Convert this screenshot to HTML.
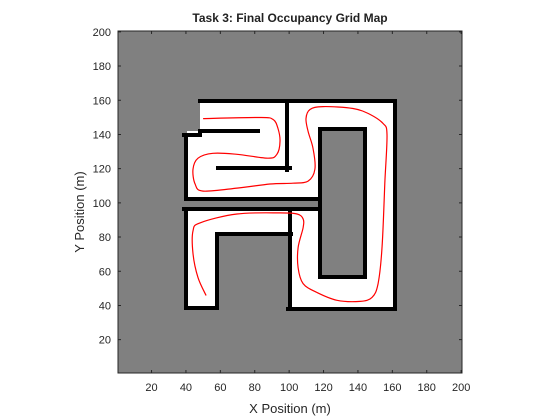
<!DOCTYPE html>
<html><head><meta charset="utf-8"><style>
html,body{margin:0;padding:0;background:#fff;}
svg{display:block;font-family:"Liberation Sans",Arial,sans-serif;}
</style></head><body>
<svg id="chart" width="560" height="420" viewBox="0 0 560 420">
<text x="290" y="22" text-anchor="middle" font-size="12" font-weight="bold" fill="#222">Task 3: Final Occupancy Grid Map</text>
<rect x="118" y="31" width="344" height="342" fill="#808080"/>
<g fill="#fff">
<rect x="200" y="103" width="86" height="28"/>
<rect x="187" y="131" width="99" height="38"/>
<rect x="187" y="168" width="132" height="30"/>
<rect x="289" y="103" width="104" height="26"/>
<rect x="289" y="103" width="30" height="96"/>
<rect x="365" y="103" width="28" height="205"/>
<rect x="289" y="277" width="104" height="31"/>
<rect x="187" y="210" width="132" height="24"/>
<rect x="187" y="210" width="29" height="98"/>
<rect x="290" y="210" width="29" height="98"/>
</g>
<g stroke="#000" stroke-width="4" fill="none" stroke-linecap="square">
<path d="M200 101H286M288 101H395V309H288"/>
<path d="M287 101V170"/>
<path d="M290 210V308"/>
<path d="M200 131H258"/>
<path d="M184 135H200"/>
<path d="M186 136V199H320"/>
<path d="M184 209H320"/>
<path d="M186 209V308H217"/>
<path d="M218 168H290"/>
<path d="M217 308V234H291"/>
<rect x="320" y="129" width="45" height="148"/>
</g>
<g id="axes"></g>
<path id="route" fill="none" stroke="#f00" stroke-width="1.2"/>
<rect x="118" y="31" width="344" height="342" fill="none" stroke="#262626" stroke-width="1"/>
<text x="290" y="413" text-anchor="middle" font-size="13" fill="#262626">X Position (m)</text>
<text x="0" y="0" transform="translate(84,212) rotate(-90)" text-anchor="middle" font-size="13" fill="#262626">Y Position (m)</text>
</svg>
<script>
const xTicks = [20,40,60,80,100,120,140,160,180,200];
const yTicks = [20,40,60,80,100,120,140,160,180,200];
const pathX = [50,83.1,90.6,93.5,94.7,92.9,87.7,69.7,55.7,47,44.1,45.3,50,69.7,88.9,102.2,111,115,113.9,111,109.8,112.1,119.7,137.1,147,154.6,156.9,155.7,154,151.7,148.2,141.2,127.8,116.2,108.1,105.2,105.2,108.1,108.1,104.6,94.7,69.7,48.2,44.1,44.1,47,51.7];
const pathY = [149.3,149.9,148.8,143.5,136,128.4,126.1,128.4,129,126.1,119.7,111,106.9,108.6,111,111.5,112.7,119.7,131.9,141.8,149.3,154.6,156.3,155.2,151.7,146.4,140,112.7,73.8,52.8,44.7,42.4,43,47.6,52.8,62.1,73.8,85.4,90.6,93.5,94.1,93.5,88.3,83.6,70.3,56.3,45.8];
const sx = v => 118 + (v - 0.5) * 1.72;
const sy = v => 373 - (v - 0.5) * 1.71;
const NS = "http://www.w3.org/2000/svg";
const axes = document.getElementById('axes');
xTicks.forEach(t => {
  const x = sx(t);
  const l = document.createElementNS(NS,'path');
  l.setAttribute('d', `M${x} 373v-3M${x} 31v3`);
  l.setAttribute('stroke','#262626');
  
  
  axes.appendChild(l);
  const tx = document.createElementNS(NS,'text');
  tx.setAttribute('x', x); tx.setAttribute('y', 391);
  tx.setAttribute('text-anchor','middle'); tx.setAttribute('font-size','11'); tx.setAttribute('fill','#262626');
  tx.textContent = t;
  
  
  axes.appendChild(tx);
});
yTicks.forEach(t => {
  const y = sy(t);
  const l = document.createElementNS(NS,'path');
  l.setAttribute('d', `M118 ${y}h3M462 ${y}h-3`);
  l.setAttribute('stroke','#262626');
  
  
  axes.appendChild(l);
  const tx = document.createElementNS(NS,'text');
  tx.setAttribute('x', 111); tx.setAttribute('y', y + 4);
  tx.setAttribute('text-anchor','end'); tx.setAttribute('font-size','11'); tx.setAttribute('fill','#262626');
  tx.textContent = t;
  
  
  axes.appendChild(tx);
});
const pts = pathX.map((v,i) => [sx(v), sy(pathY[i])]);
let d = 'M' + pts[0][0].toFixed(1) + ' ' + pts[0][1].toFixed(1);
for (let i = 0; i < pts.length - 1; i++) {
  const p0 = pts[Math.max(0,i-1)], p1 = pts[i], p2 = pts[i+1], p3 = pts[Math.min(pts.length-1,i+2)];
  const c1 = [p1[0] + (p2[0]-p0[0])/6, p1[1] + (p2[1]-p0[1])/6];
  const c2 = [p2[0] - (p3[0]-p1[0])/6, p2[1] - (p3[1]-p1[1])/6];
  d += `C${c1[0].toFixed(1)} ${c1[1].toFixed(1)} ${c2[0].toFixed(1)} ${c2[1].toFixed(1)} ${p2[0].toFixed(1)} ${p2[1].toFixed(1)}`;
}
document.getElementById('route').setAttribute('d', d);
</script>
</body></html>
